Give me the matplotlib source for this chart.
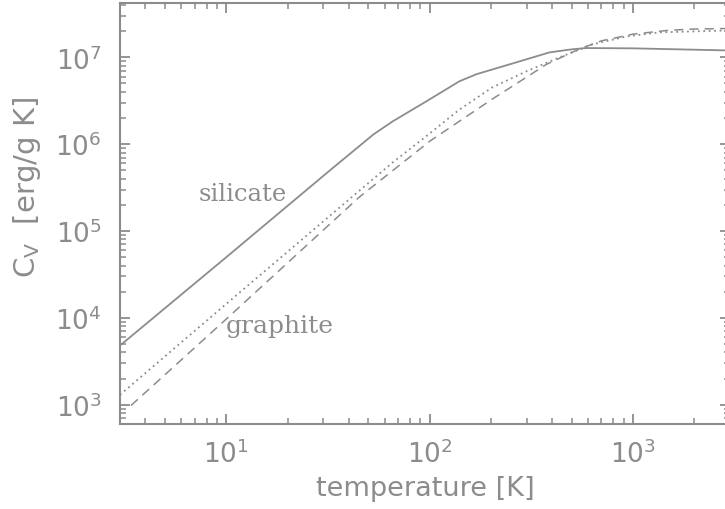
import matplotlib
matplotlib.use("Agg")
import matplotlib.pyplot as plt

# silicate (solid)
sil_T = [3, 10, 32, 53, 66, 96, 140, 170, 247, 388, 504, 590, 1000, 3000]
sil_C = [4.8e3, 5.0e4, 4.9e5, 1.3e6, 1.84e6, 3.1e6, 5.3e6, 6.4e6, 8.3e6,
         1.14e7, 1.24e7, 1.28e7, 1.27e7, 1.2e7]

# graphite (dotted)
gra1_T = [3, 10, 45, 66, 96, 140, 203, 299, 435, 631, 929, 1350, 1960, 3000]
gra1_C = [1.3e3, 1.45e4, 2.9e5, 6.2e5, 1.23e6, 2.5e6, 4.5e6, 6.9e6, 1.0e7,
          1.41e7, 1.74e7, 1.94e7, 1.99e7, 2.04e7]

# graphite (dashed)
gra2_T = [3.4, 10, 45, 100, 203, 299, 375, 545, 700, 1000, 1500, 2000, 3000]
gra2_C = [9.8e2, 9.7e3, 2.45e5, 1.08e6, 3.3e6, 5.9e6, 8.3e6, 1.25e7, 1.55e7,
          1.85e7, 2.05e7, 2.12e7, 2.15e7]

GRAY = "#8c8c8c"
plt.rcParams["mathtext.default"] = "regular"

fig = plt.figure(figsize=(7.25, 5.1), dpi=100)
ax = fig.add_axes([0.1655, 0.1667, 0.8414, 0.825])

ax.plot(sil_T, sil_C, color=GRAY, lw=1.3, ls="-")
ax.plot(gra1_T, gra1_C, color=GRAY, lw=1.3, ls=(0, (1, 2)))
ax.plot(gra2_T, gra2_C, color=GRAY, lw=1.1, ls=(0, (6, 4)))

ax.set_xscale("log")
ax.set_yscale("log")
ax.set_xlim(3, 3000)
ax.set_ylim(6e2, 4.2e7)

for s in ax.spines.values():
    s.set_color(GRAY)
    s.set_linewidth(1.5)

ax.tick_params(which="both", direction="in", top=True, right=True, colors=GRAY)
ax.tick_params(which="major", length=7.5, width=1.3, labelsize=19)
ax.tick_params(which="minor", length=4, width=1.1)
ax.tick_params(axis="x", pad=11)
ax.tick_params(axis="y", pad=13)

# curve labels, placed in pixel coords (from bottom-left)
ax.text(243, 510 - 195, "silicate", transform=None, family="DejaVu Serif",
        fontsize=17.5, color=GRAY, ha="center", va="center")
ax.text(280, 510 - 327, "graphite", transform=None, family="DejaVu Serif",
        fontsize=18, color=GRAY, ha="center", va="center")

ax.set_xlabel("temperature [K]", fontsize=19.5, color=GRAY, labelpad=5)
ax.set_ylabel(r"C$_V$  [erg/g K]", fontsize=21, color=GRAY)
ax.yaxis.set_label_coords(-0.127, 0.565)

plt.savefig("out.png", dpi=100)
plt.close()
